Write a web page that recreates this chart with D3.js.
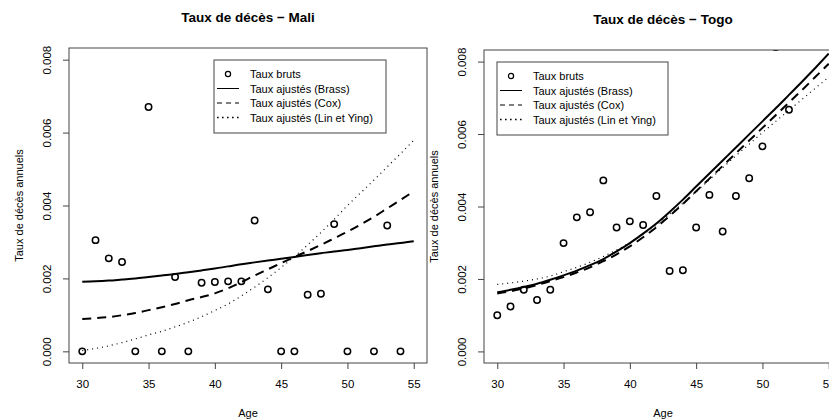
<!DOCTYPE html>
<html lang="fr">
<head>
<meta charset="UTF-8">
<title>Taux de décès</title>
<script src="https://cdn.jsdelivr.net/npm/d3@7"></script>
<style>
  body { margin: 0; background: #fff; }
  svg text { font-family: "Liberation Sans", Arial, sans-serif; fill: #000; }
</style>
</head>
<body>
<svg id="chart" width="829" height="420"></svg>
<script>
// données
var maliAges = [30, 31, 32, 33, 34, 35, 36, 37, 38, 39, 40, 41, 42, 43, 44, 45, 46, 47, 48, 49, 50, 52, 53, 54];
var maliRaw = [0, 0.00305, 0.00255, 0.00245, 0, 0.0067, 0, 0.00204, 0, 0.00188, 0.0019, 0.00192, 0.00192, 0.00359, 0.0017, 0, 0, 0.00155, 0.00158, 0.00349, 0, 0, 0.00345, 0];

var togoAges = [30, 31, 32, 33, 34, 35, 36, 37, 38, 39, 40, 41, 42, 43, 44, 45, 46, 47, 48, 49, 50, 51, 52];
var togoRaw = [0.001, 0.00124, 0.0017, 0.00142, 0.0017, 0.00299, 0.0037, 0.00384, 0.00472, 0.00342, 0.00359, 0.00349, 0.00429, 0.00222, 0.00224, 0.00342, 0.00432, 0.00331, 0.00429, 0.00478, 0.00566, 0.0084, 0.00667];

// taux ajustés, en pour mille
var fitAges = [30, 31, 32, 33, 34, 35, 36, 37, 38, 39, 40, 41, 42, 43, 44, 45, 46, 47, 48, 49, 50, 51, 52, 53, 54, 55];
var maliBrass = [1.91, 1.92, 1.94, 1.97, 2.00, 2.04, 2.08, 2.12, 2.17, 2.22, 2.27, 2.33, 2.39, 2.44, 2.49, 2.54, 2.59, 2.64, 2.69, 2.74, 2.78, 2.83, 2.88, 2.93, 2.97, 3.02];
var maliCox = [0.89, 0.91, 0.94, 0.99, 1.05, 1.13, 1.21, 1.30, 1.40, 1.49, 1.59, 1.73, 1.90, 2.08, 2.25, 2.42, 2.59, 2.75, 2.92, 3.10, 3.28, 3.48, 3.69, 3.92, 4.15, 4.39];
var maliLinYing = [0.02, 0.08, 0.15, 0.24, 0.34, 0.45, 0.55, 0.67, 0.80, 0.95, 1.12, 1.30, 1.52, 1.76, 2.02, 2.30, 2.60, 2.92, 3.26, 3.62, 4.00, 4.35, 4.70, 5.06, 5.42, 5.79];
var togoBrass = [1.63, 1.70, 1.78, 1.87, 1.98, 2.10, 2.23, 2.38, 2.55, 2.76, 2.99, 3.25, 3.53, 3.85, 4.19, 4.55, 4.91, 5.27, 5.63, 5.99, 6.35, 6.71, 7.08, 7.45, 7.83, 8.22];
var togoCox = [1.60, 1.66, 1.74, 1.83, 1.94, 2.05, 2.18, 2.32, 2.49, 2.68, 2.90, 3.15, 3.43, 3.74, 4.07, 4.42, 4.77, 5.12, 5.47, 5.82, 6.17, 6.52, 6.87, 7.22, 7.58, 7.94];
var togoLinYing = [1.85, 1.89, 1.94, 2.00, 2.08, 2.20, 2.32, 2.46, 2.62, 2.80, 3.00, 3.23, 3.49, 3.78, 4.09, 4.41, 4.74, 5.07, 5.40, 5.72, 6.04, 6.35, 6.66, 6.96, 7.27, 7.57];

var xTicks = [30, 35, 40, 45, 50, 55];
var yTicks = [0, 0.002, 0.004, 0.006, 0.008];
var legendLabels = ["Taux bruts", "Taux ajustés (Brass)", "Taux ajustés (Cox)", "Taux ajustés (Lin et Ying)"];

var svg = d3.select("#chart");

function drawPanel(p) {
    var x = d3.scaleLinear().domain([29, 56]).range([p.left, p.right]);
    var y = d3.scaleLinear().domain([-0.00032, 0.00832]).range([p.bottom, p.top]);
    var g = svg.append("g");

    g.append("clipPath").attr("id", "clip" + p.id)
        .append("rect")
        .attr("x", p.left).attr("y", p.top)
        .attr("width", p.right - p.left).attr("height", p.bottom - p.top);

    // titre
    g.append("text")
        .attr("x", (p.left + p.right) / 2).attr("y", p.top - 26)
        .attr("text-anchor", "middle")
        .style("font-size", "13.5px").style("font-weight", "bold")
        .text(p.title);

    // axes
    var xAxis = d3.axisBottom(x).tickValues(xTicks).tickSize(6).tickPadding(11);
    g.append("g").attr("transform", "translate(0," + p.bottom + ")").call(xAxis)
        .call(function (a) {
            a.select(".domain").remove();
            a.selectAll("line").attr("stroke", "#444");
            a.selectAll("text").style("font-size", "11.5px").attr("fill", "#222");
        });

    var yAxis = d3.axisLeft(y).tickValues(yTicks).tickSize(6).tickFormat(d3.format(".3f"));
    g.append("g").attr("transform", "translate(" + p.left + ",0)").call(yAxis)
        .call(function (a) {
            a.select(".domain").remove();
            a.selectAll("line").attr("stroke", "#444");
            a.selectAll("text")
                .attr("x", 0).attr("dy", 0)
                .attr("transform", "translate(-18,0) rotate(-90)")
                .attr("text-anchor", "middle")
                .style("font-size", "11.5px").attr("fill", "#222");
        });

    g.append("text")
        .attr("transform", "translate(" + (p.left - 46) + "," + ((p.top + p.bottom) / 2) + ") rotate(-90)")
        .attr("text-anchor", "middle")
        .style("font-size", "11px")
        .text("Taux de décès annuels");

    g.append("text")
        .attr("x", (p.left + p.right) / 2).attr("y", 417)
        .attr("text-anchor", "middle")
        .style("font-size", "11px")
        .text("Age");

    // courbes
    var line = d3.line()
        .x(function (d) { return x(d[0]); })
        .y(function (d) { return y(d[1] / 1000); })
        .curve(d3.curveMonotoneX);

    var plot = g.append("g").attr("clip-path", "url(#clip" + p.id + ")");
    var styles = [
        { data: p.brass, w: 2, dash: null },
        { data: p.cox, w: 2, dash: "9,6" },
        { data: p.lin, w: 1.2, dash: "1,4" }
    ];
    styles.forEach(function (s) {
        plot.append("path")
            .datum(fitAges.map(function (a, i) { return [a, s.data[i]]; }))
            .attr("d", line)
            .attr("fill", "none")
            .attr("stroke", "#000")
            .attr("stroke-width", s.w)
            .attr("stroke-dasharray", s.dash);
    });

    plot.selectAll("circle.pt")
        .data(p.ages.map(function (a, i) { return [a, p.raw[i]]; }))
        .enter().append("circle")
        .attr("class", "pt")
        .attr("cx", function (d) { return x(d[0]); })
        .attr("cy", function (d) { return y(d[1]); })
        .attr("r", 3.2)
        .attr("fill", "none")
        .attr("stroke", "#000")
        .attr("stroke-width", 1.5);

    // cadre
    g.append("rect")
        .attr("x", p.left).attr("y", p.top)
        .attr("width", p.right - p.left).attr("height", p.bottom - p.top)
        .attr("fill", "none").attr("stroke", "#444").attr("stroke-width", 1);

    // légende
    var L = p.legend;
    g.append("rect")
        .attr("x", L.x).attr("y", L.y).attr("width", L.w).attr("height", 73)
        .attr("fill", "#fff").attr("stroke", "#444");
    legendLabels.forEach(function (lab, i) {
        var yy = L.y + 14 + i * 14.5;
        if (i === 0) {
            g.append("circle").attr("cx", L.x + 14).attr("cy", yy).attr("r", 2.6)
                .attr("fill", "none").attr("stroke", "#000").attr("stroke-width", 1.2);
        } else {
            var ln = g.append("line")
                .attr("x1", L.x + 3).attr("x2", L.x + 25)
                .attr("y1", yy).attr("y2", yy)
                .attr("stroke", "#000");
            if (i === 1) ln.attr("stroke-width", 1);
            if (i === 2) ln.attr("stroke-width", 1).attr("stroke-dasharray", "5,4");
            if (i === 3) ln.attr("stroke-width", 1.6).attr("stroke-dasharray", "1.6,3.4");
        }
        g.append("text")
            .attr("x", L.x + 36).attr("y", yy + 4)
            .style("font-size", "11px")
            .text(lab);
    });
}

drawPanel({
    id: "mali", title: "Taux de décès − Mali",
    left: 69, right: 427, top: 48, bottom: 363,
    ages: maliAges, raw: maliRaw,
    brass: maliBrass, cox: maliCox, lin: maliLinYing,
    legend: { x: 214, y: 60, w: 172 }
});

drawPanel({
    id: "togo", title: "Taux de décès − Togo",
    left: 484, right: 842, top: 50, bottom: 363,
    ages: togoAges, raw: togoRaw,
    brass: togoBrass, cox: togoCox, lin: togoLinYing,
    legend: { x: 497, y: 62, w: 171 }
});
</script>
</body>
</html>
